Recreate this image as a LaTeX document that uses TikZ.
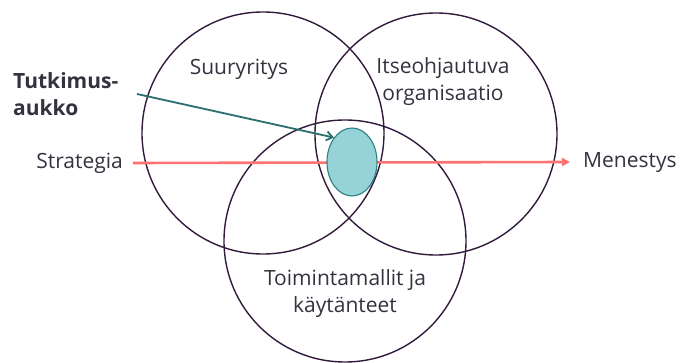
\documentclass[tikz,border=0pt]{standalone}
\usepackage{fontspec}
\setmainfont{Open Sans}
\usetikzlibrary{arrows.meta,shapes.geometric}
\definecolor{circ}{HTML}{321A3C}
\definecolor{txt}{HTML}{33333F}
\definecolor{redline}{HTML}{FF7272}
\definecolor{tealline}{HTML}{2B6E6E}
\definecolor{tealfill}{HTML}{96D3D8}
\definecolor{tealborder}{HTML}{2E7F80}
\tikzset{
  venn/.style={draw=circ, line width=1.4pt, circle, minimum size=242pt, inner sep=0pt},
  lbl/.style={text=txt, font=\fontsize{21}{27}\selectfont, align=center, inner sep=0pt},
}
\begin{document}
\begin{tikzpicture}[x=1pt,y=-1pt]
\useasboundingbox (0,0) rectangle (681,363);
\node[venn] (c1) at (263,133) {};
\node[venn] (c2) at (436,134) {};
\node[venn] (c3) at (345,241) {};
\coordinate (rs) at (133,163);
\coordinate (re) at (570,162);
\draw[redline, line width=2.6pt, -{Triangle[length=8pt,width=8pt]}] (rs) -- (re);
\node[draw=tealborder, fill=tealfill, line width=1.1pt, ellipse, minimum width=50pt, minimum height=68pt, inner sep=0pt] (gap) at (352,162) {};
\node[lbl, anchor=east] (strat) at (123,163) {Strategia};
\node[lbl, anchor=west] (men) at (583,163) {Menestys};
\node[lbl, font=\fontsize{21}{27}\selectfont\bfseries, anchor=west, align=left] (tut) at (13,94) {Tutkimus-\\aukko};
\node[lbl] (suur) at (239,69) {Suuryritys};
\node[lbl] (itse) at (443,82) {Itseohjautuva\\organisaatio};
\node[lbl] (toim) at (345,294) {Toimintamallit ja\\käytänteet};
\coordinate (ts) at (137,94);
\draw[tealline, line width=1.8pt, -{Straight Barb[length=6pt,width=9pt]}] (ts) -- (gap.north west);
\end{tikzpicture}
\end{document}
